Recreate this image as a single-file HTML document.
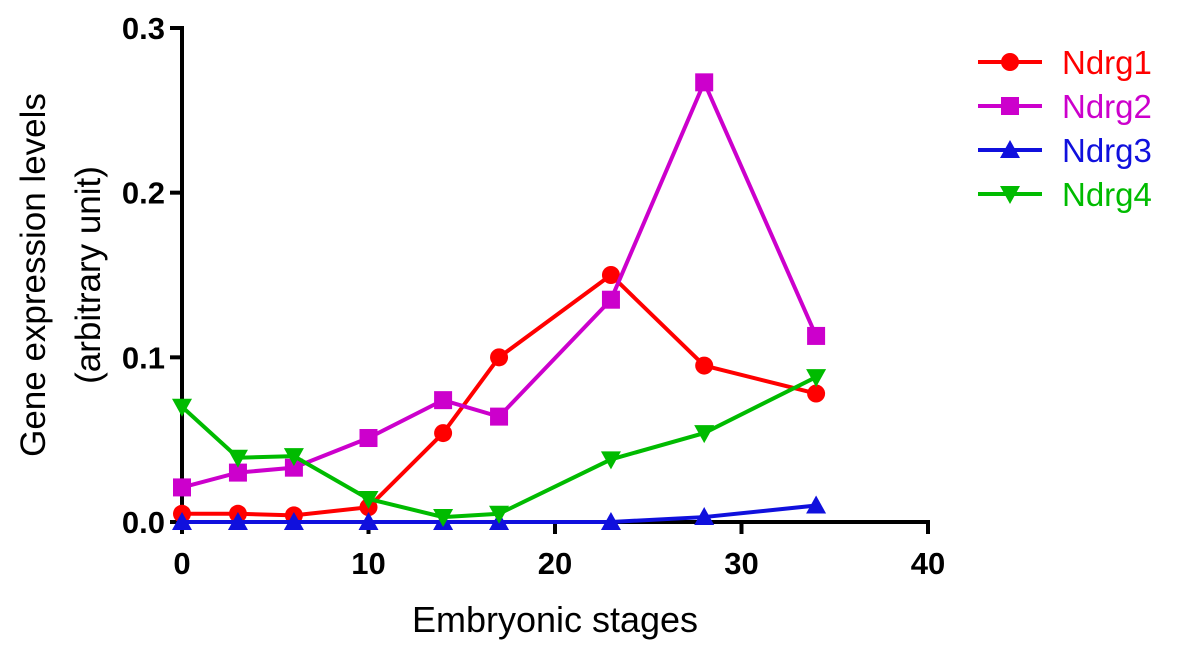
<!DOCTYPE html>
<html><head><meta charset="utf-8">
<style>
html,body{margin:0;padding:0;background:#fff;}
svg{display:block;font-family:"Liberation Sans",Arial,sans-serif;}
</style></head>
<body>
<svg id="chart" width="1177" height="655" viewBox="0 0 1177 655">
<g id="axes"></g>
<g id="series"></g>
<g id="legend"></g>
<text x="555" y="632" font-size="36" text-anchor="middle">Embryonic stages</text>
<text transform="translate(45,275) rotate(-90)" font-size="35" text-anchor="middle">Gene expression levels</text>
<text transform="translate(100,275) rotate(-90)" font-size="35" text-anchor="middle">(arbitrary unit)</text>
</svg>
<script>
const stages = [0, 3, 6, 10, 14, 17, 23, 28, 34];
const ndrg1 = [0.005, 0.005, 0.004, 0.009, 0.054, 0.100, 0.150, 0.095, 0.078];
const ndrg2 = [0.021, 0.030, 0.033, 0.051, 0.074, 0.064, 0.135, 0.267, 0.113];
const ndrg3 = [0.000, 0.000, 0.000, 0.000, 0.000, 0.000, 0.000, 0.003, 0.010];
const ndrg4 = [0.070, 0.039, 0.040, 0.014, 0.003, 0.005, 0.038, 0.054, 0.088];
const seriesNames = ["Ndrg1", "Ndrg2", "Ndrg3", "Ndrg4"];
const xTicks = [0, 10, 20, 30, 40];
const yTicks = [0, 0.1, 0.2, 0.3];
const yTickLabels = ["0.0", "0.1", "0.2", "0.3"];

const NS = "http://www.w3.org/2000/svg";
const x0 = 182, x1 = 928, y0 = 522, y1 = 28;
const xs = v => x0 + (v / 40) * (x1 - x0);
const ys = v => y0 - (v / 0.3) * (y0 - y1);
function mk(tag, attrs, parent) {
  const e = document.createElementNS(NS, tag);
  for (const k in attrs) e.setAttribute(k, attrs[k]);
  parent.appendChild(e);
  return e;
}
const axes = document.getElementById("axes");
let e = mk("line", {x1: x0, y1: y0, x2: x1 + 2, y2: y0, stroke: "#000", "stroke-width": 4}, axes);


e = mk("line", {x1: x0, y1: y1 - 2, x2: x0, y2: y0 + 2, stroke: "#000", "stroke-width": 4}, axes);


xTicks.forEach(t => {
  const l = mk("line", {x1: xs(t), y1: y0, x2: xs(t), y2: y0 + 12, stroke: "#000", "stroke-width": 4}, axes);
  
  
  const tx = mk("text", {x: xs(t), y: y0 + 52, "font-size": 31, "font-weight": "bold", "text-anchor": "middle"}, axes);
  tx.textContent = t;
  
  
});
yTicks.forEach((t, i) => {
  const l = mk("line", {x1: x0 - 12, y1: ys(t), x2: x0, y2: ys(t), stroke: "#000", "stroke-width": 4}, axes);
  
  
  const tx = mk("text", {x: x0 - 17, y: ys(t) + 11, "font-size": 31, "font-weight": "bold", "text-anchor": "end"}, axes);
  tx.textContent = yTickLabels[i];
  
  
});
const colors = ["#ff0000", "#cc00cc", "#1010dd", "#00bb00"];
const shapes = ["circle", "square", "up", "down"];
function marker(shape, cx, cy, color, parent) {
  let m;
  if (shape === "circle") m = mk("circle", {cx, cy, r: 9, fill: color}, parent);
  else if (shape === "square") m = mk("rect", {x: cx - 9, y: cy - 9, width: 18, height: 18, fill: color}, parent);
  else if (shape === "up") m = mk("polygon", {points: `${cx},${cy - 10} ${cx - 10},${cy + 8} ${cx + 10},${cy + 8}`, fill: color}, parent);
  else m = mk("polygon", {points: `${cx},${cy + 10} ${cx - 10},${cy - 8} ${cx + 10},${cy - 8}`, fill: color}, parent);
  return m;
}
const data = [ndrg1, ndrg2, ndrg3, ndrg4];
const sg = document.getElementById("series");
data.forEach((vals, si) => {
  const g = mk("g", {}, sg);
  
  
  const pts = vals.map((v, i) => xs(stages[i]) + "," + ys(v)).join(" ");
  const pl = mk("polyline", {points: pts, fill: "none", stroke: colors[si], "stroke-width": 4}, g);
  
  
  vals.forEach((v, i) => {
    const m = marker(shapes[si], xs(stages[i]), ys(v), colors[si], g);
    
    
  });
});
const lg = document.getElementById("legend");
seriesNames.forEach((n, i) => {
  const y = 62 + i * 44;
  const g = mk("g", {}, lg);
  
  
  mk("line", {x1: 978, y1: y, x2: 1042, y2: y, stroke: colors[i], "stroke-width": 4}, g);
  marker(shapes[i], 1010, y, colors[i], g);
  const t = mk("text", {x: 1062, y: y + 12, "font-size": 33, fill: colors[i]}, g);
  t.textContent = n;
  
  
});
</script>
</body></html>
